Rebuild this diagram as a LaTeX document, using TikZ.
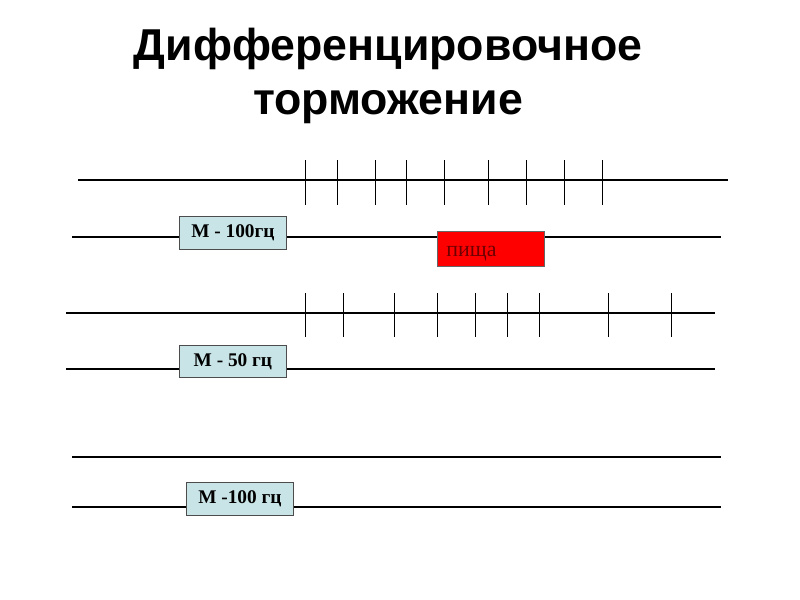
\documentclass[tikz,border=0pt]{standalone}
\usepackage{fontspec}
\setmainfont{Liberation Serif}
\newfontfamily\titlefont{Liberation Sans}
\begin{document}
\begin{tikzpicture}[x=0.75pt,y=-0.75pt,
  mainline/.style={line width=1.6pt,black},
  tick/.style={line width=0.5pt,black},
  mbox/.style={draw=black!70,line width=0.6pt,fill={rgb,255:red,200;green,228;blue,230},
    minimum width=80.25pt,minimum height=24.75pt,inner sep=0pt,
    font=\fontsize{14.5}{16}\selectfont\bfseries,anchor=north west},
  foodbox/.style={draw=black!60,line width=0.6pt,fill={rgb,255:red,255;green,0;blue,0},
    minimum width=80.25pt,minimum height=26.25pt,inner sep=0pt,anchor=north west},
  titletext/.style={font=\titlefont\fontsize{33.5}{40}\selectfont\bfseries,align=center}]
\useasboundingbox (0,0) rectangle (800,600);
\fill[white] (0,0) rectangle (800,600);
% title
\node[titletext] (title) at (388,76) {Дифференцировочное\\торможение};
% row 1
\coordinate (a1) at (78,180); \coordinate (b1) at (728,180);
\coordinate (c1) at (72,237); \coordinate (d1) at (721,237);
\draw[mainline] (a1) -- (b1);
\draw[mainline] (c1) -- (d1);
\foreach \x [count=\i] in {305,337,375,406,444,488,526,564,602}{
  \coordinate (t1top\i) at (\x,160); \coordinate (t1bot\i) at (\x,205);
  \draw[tick] (t1top\i) -- (t1bot\i);
}
\node[mbox] (m1) at (179,216) {М - 100гц};
\node[foodbox] (food) at (437,231) {};
\node[anchor=base west,text={rgb,255:red,110;green,0;blue,0},font=\fontsize{16.5}{18}\selectfont,inner sep=0pt] (foodtext) at (446,256) {пища};
% row 2
\coordinate (a2) at (66,313); \coordinate (b2) at (715,313);
\coordinate (c2) at (66,369); \coordinate (d2) at (715,369);
\draw[mainline] (a2) -- (b2);
\draw[mainline] (c2) -- (d2);
\foreach \x [count=\i] in {305,343,394,437,475,507,539,608,671}{
  \coordinate (t2top\i) at (\x,293); \coordinate (t2bot\i) at (\x,337);
  \draw[tick] (t2top\i) -- (t2bot\i);
}
\node[mbox,minimum height=24pt] (m2) at (179,345) {М - 50 гц};
% row 3
\coordinate (a3) at (72,457); \coordinate (b3) at (721,457);
\coordinate (c3) at (72,507); \coordinate (d3) at (721,507);
\draw[mainline] (a3) -- (b3);
\draw[mainline] (c3) -- (d3);
\node[mbox] (m3) at (186,482) {М -100 гц};
\end{tikzpicture}
\end{document}
